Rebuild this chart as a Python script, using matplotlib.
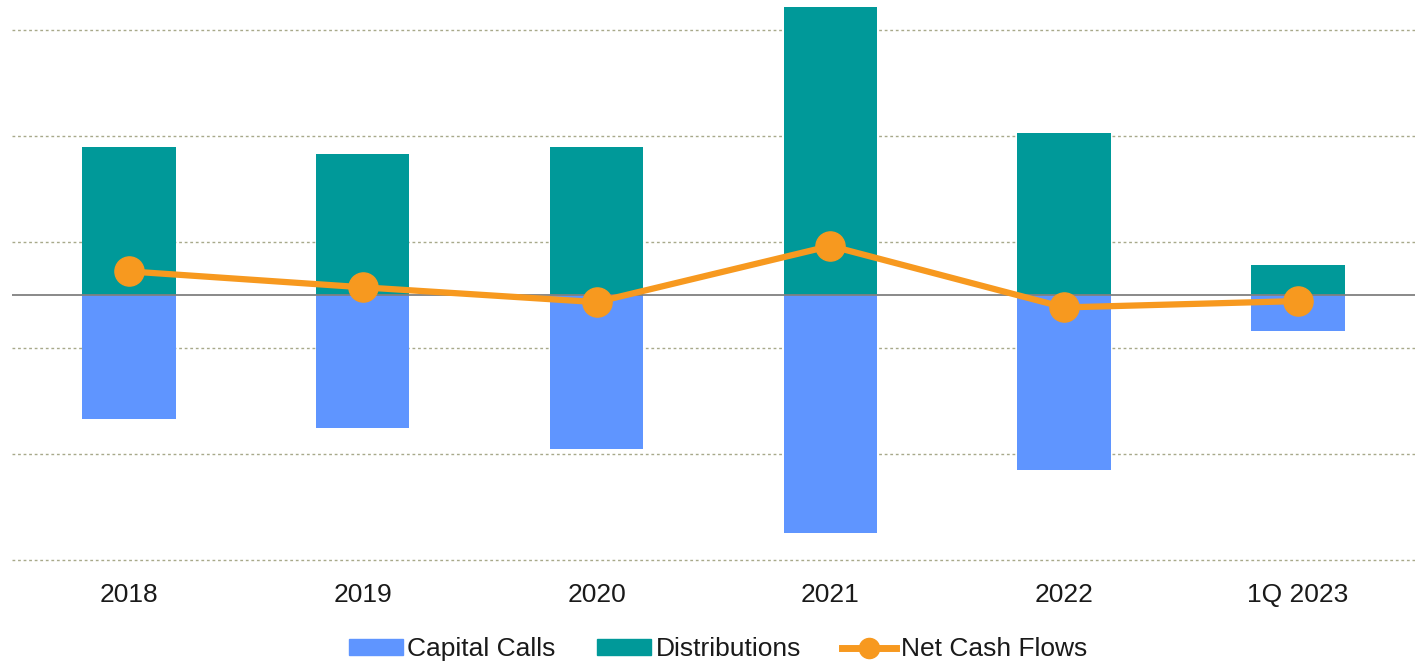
import matplotlib.pyplot as plt
from matplotlib.lines import Line2D
from matplotlib.patches import Patch
import numpy as np

# values (arbitrary units, gridlines every 100 offset by 50)
periods = ['2018', '2019', '2020', '2021', '2022', '1Q 2023']
capital_calls = [-117, -126, -146, -225, -165, -34]
distributions = [139, 133, 139, 271, 153, 28]
net_cash_flows = [22, 7, -7, 46, -12, -6]

plt.rcParams['font.family'] = ['Liberation Sans', 'DejaVu Sans']

fig = plt.figure(figsize=(14.24, 6.61), dpi=100)
ax = fig.add_axes([0.0084, 0.150, 0.9853, 0.850])

x = np.arange(len(periods))
ax.bar(x, capital_calls, width=0.4, color='#5f95ff', zorder=2)
ax.bar(x, distributions, width=0.4, color='#009999', zorder=2)
ax.axhline(0, color='#808080', linewidth=1.3, zorder=3)
ax.plot(x, net_cash_flows, color='#f7991f', linewidth=4.5, marker='o', markersize=21, zorder=4)

# dotted gridlines
for g in [-250, -150, -50, 50, 150, 250]:
    ax.axhline(g, color='#a8a98a', linewidth=1, linestyle=(0, (2, 2)), zorder=1)

ax.set_xlim(-0.5, len(periods) - 0.5)
ax.set_ylim(-252, 278)
ax.set_xticks(x)
ax.set_xticklabels(periods, fontsize=19, color='#1a1a1a')
ax.tick_params(axis='x', length=0, pad=15)
ax.set_yticks([])
for s in ax.spines.values():
    s.set_visible(False)

handles = [Patch(color='#5f95ff'), Patch(color='#009999'),
           Line2D([], [], color='#f7991f', linewidth=5, marker='o', markersize=14.5)]
labels = ['Capital Calls', 'Distributions', 'Net Cash Flows']
fig.legend(handles, labels, loc='center', bbox_to_anchor=(0.504, 0.018), ncol=3, frameon=False,
           fontsize=19, handlelength=2.05, handleheight=0.53, handletextpad=0.18,
           columnspacing=1.55, labelcolor='#1a1a1a', borderpad=0.2)

fig.savefig('out.png', dpi=100)
